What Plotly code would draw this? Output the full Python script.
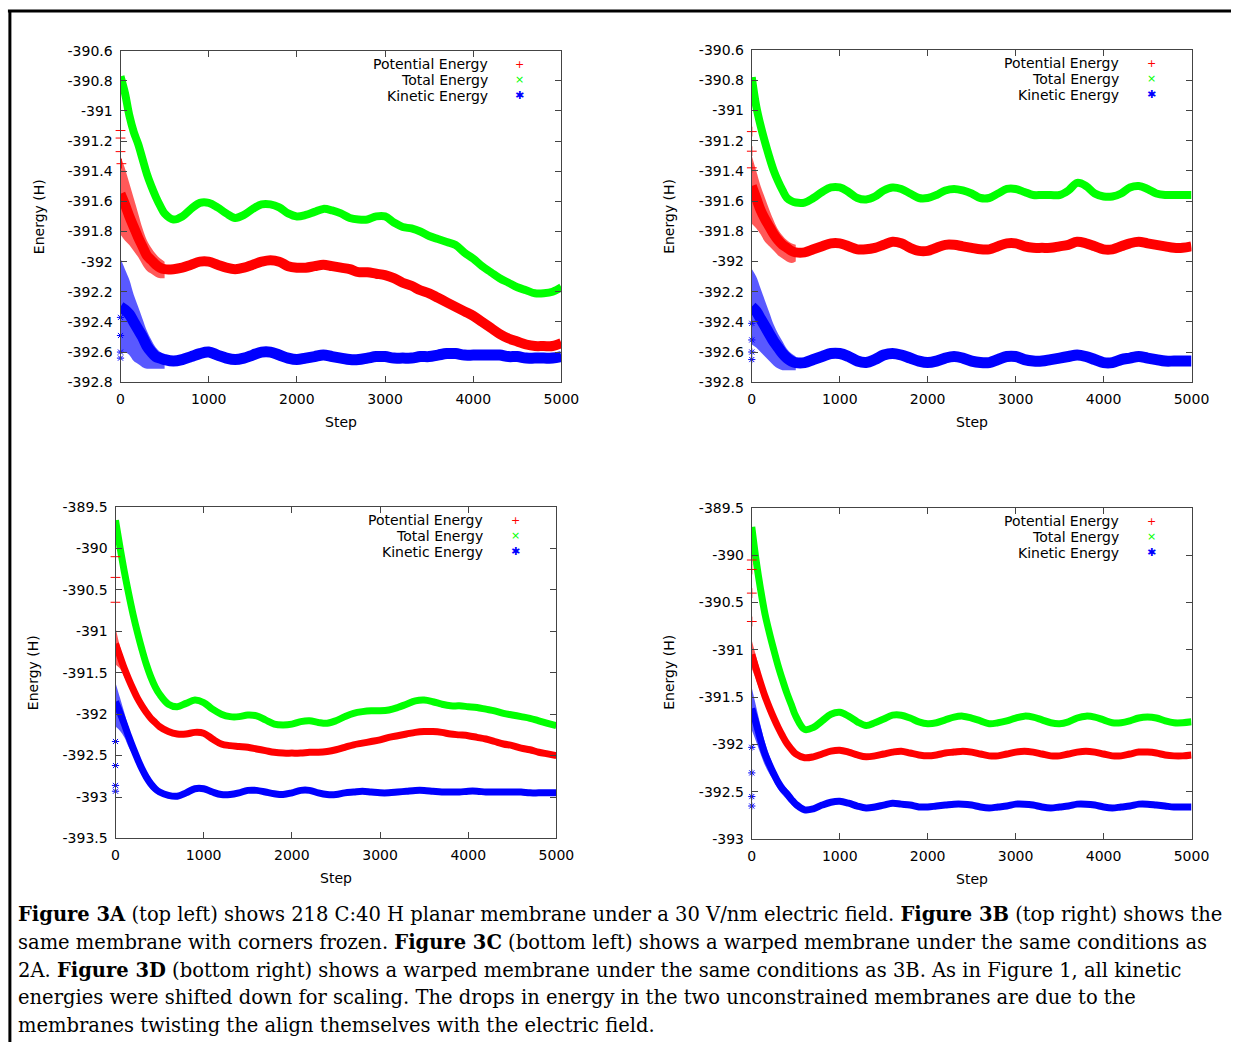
import plotly.graph_objects as go

# ---------------- data ----------------
steps = [0, 50, 100, 150, 200, 250, 300, 350, 400, 450, 500,
         600, 700, 800, 900, 1000, 1100, 1200, 1300, 1400, 1500,
         1600, 1700, 1800, 1900, 2000, 2100, 2200, 2300, 2400, 2500,
         2600, 2700, 2800, 2900, 3000, 3100, 3200, 3300, 3400, 3500,
         3600, 3700, 3800, 3900, 4000, 4100, 4200, 4300, 4400, 4500,
         4600, 4700, 4800, 4900, 5000]
steps_early = [0, 50, 100, 150, 200, 250, 300, 350, 400, 450, 500]

# Figure 3A
total_a = [-390.77, -390.88, -391.03, -391.14, -391.22, -391.32, -391.42, -391.50, -391.57, -391.63, -391.68,
           -391.72, -391.70, -391.65, -391.61, -391.61, -391.64, -391.68, -391.71, -391.69, -391.65,
           -391.62, -391.62, -391.64, -391.68, -391.70, -391.69, -391.67, -391.65, -391.66, -391.68,
           -391.71, -391.72, -391.72, -391.70, -391.70, -391.74, -391.77, -391.78, -391.80, -391.83,
           -391.85, -391.87, -391.89, -391.94, -391.98, -392.03, -392.07, -392.11, -392.14, -392.17,
           -392.19, -392.21, -392.21, -392.20, -392.17]
potential_a = [-391.55, -391.62, -391.70, -391.77, -391.84, -391.90, -391.96, -391.99, -392.02, -392.04, -392.05,
               -392.05, -392.04, -392.02, -392.00, -392.00, -392.02, -392.04, -392.05, -392.04, -392.02,
               -392.00, -391.99, -392.00, -392.03, -392.04, -392.04, -392.03, -392.02, -392.03, -392.04,
               -392.05, -392.07, -392.07, -392.08, -392.09, -392.11, -392.14, -392.16, -392.19, -392.21,
               -392.24, -392.27, -392.30, -392.33, -392.36, -392.40, -392.44, -392.48, -392.51, -392.53,
               -392.55, -392.56, -392.56, -392.56, -392.54]
kinetic_a = [-392.30, -392.32, -392.35, -392.40, -392.45, -392.50, -392.56, -392.60, -392.63, -392.64, -392.65,
             -392.66, -392.65, -392.63, -392.61, -392.60, -392.62, -392.64, -392.65, -392.64, -392.62,
             -392.60, -392.60, -392.62, -392.64, -392.65, -392.64, -392.63, -392.62, -392.63, -392.64,
             -392.65, -392.65, -392.64, -392.63, -392.63, -392.64, -392.64, -392.64, -392.63, -392.63,
             -392.62, -392.61, -392.61, -392.62, -392.62, -392.62, -392.62, -392.62, -392.63, -392.63,
             -392.64, -392.64, -392.64, -392.64, -392.63]
potential_a_hi = [-391.30, -391.38, -391.48, -391.58, -391.68, -391.78, -391.86, -391.91, -391.95, -391.98, -392.00]
potential_a_lo = [-391.82, -391.86, -391.89, -391.93, -391.97, -392.02, -392.06, -392.08, -392.10, -392.11, -392.11]
kinetic_a_hi = [-391.98, -392.05, -392.12, -392.22, -392.30, -392.38, -392.46, -392.52, -392.57, -392.60, -392.62]
kinetic_a_lo = [-392.60, -392.60, -392.62, -392.66, -392.68, -392.70, -392.71, -392.71, -392.71, -392.71, -392.71]
pot_out_a_x = [0, 0, 0, 10]
pot_out_a_y = [-391.13, -391.18, -391.27, -391.35]
kin_out_a_x = [0, 0, 0, 0]
kin_out_a_y = [-392.37, -392.49, -392.60, -392.64]

# Figure 3B
total_b = [-390.78, -390.97, -391.10, -391.21, -391.31, -391.40, -391.47, -391.53, -391.58, -391.60, -391.61,
           -391.61, -391.58, -391.54, -391.51, -391.51, -391.54, -391.58, -391.59, -391.57, -391.53,
           -391.51, -391.52, -391.55, -391.58, -391.58, -391.56, -391.53, -391.52, -391.53, -391.55,
           -391.58, -391.58, -391.55, -391.52, -391.52, -391.54, -391.56, -391.56, -391.56, -391.56,
           -391.53, -391.48, -391.50, -391.55, -391.57, -391.57, -391.55, -391.51, -391.50, -391.52,
           -391.55, -391.56, -391.56, -391.56, -391.56]
potential_b = [-391.50, -391.58, -391.66, -391.72, -391.77, -391.82, -391.86, -391.89, -391.91, -391.93, -391.94,
               -391.94, -391.92, -391.90, -391.88, -391.88, -391.90, -391.92, -391.92, -391.91, -391.89,
               -391.87, -391.88, -391.91, -391.93, -391.93, -391.91, -391.89, -391.89, -391.90, -391.91,
               -391.92, -391.92, -391.90, -391.88, -391.88, -391.90, -391.91, -391.91, -391.91, -391.90,
               -391.89, -391.87, -391.88, -391.90, -391.92, -391.92, -391.90, -391.88, -391.87, -391.88,
               -391.89, -391.90, -391.91, -391.91, -391.90]
kinetic_b = [-392.30, -392.33, -392.38, -392.43, -392.48, -392.53, -392.57, -392.61, -392.64, -392.66, -392.67,
             -392.67, -392.65, -392.63, -392.61, -392.61, -392.63, -392.66, -392.67, -392.65, -392.62,
             -392.61, -392.62, -392.64, -392.66, -392.67, -392.66, -392.64, -392.63, -392.64, -392.66,
             -392.67, -392.67, -392.65, -392.63, -392.63, -392.65, -392.66, -392.66, -392.65, -392.64,
             -392.63, -392.62, -392.63, -392.65, -392.67, -392.67, -392.65, -392.64, -392.63, -392.64,
             -392.65, -392.66, -392.66, -392.66, -392.66]
potential_b_hi = [-391.30, -391.40, -391.50, -391.58, -391.66, -391.73, -391.79, -391.83, -391.86, -391.88, -391.89]
potential_b_lo = [-391.75, -391.78, -391.82, -391.87, -391.90, -391.93, -391.96, -391.98, -392.00, -392.01, -392.00]
kinetic_b_hi = [-392.05, -392.10, -392.18, -392.26, -392.34, -392.42, -392.48, -392.53, -392.58, -392.61, -392.63]
kinetic_b_lo = [-392.55, -392.57, -392.60, -392.63, -392.66, -392.69, -392.71, -392.72, -392.72, -392.72, -392.72]
pot_out_b_x = [0, 0, 0]
pot_out_b_y = [-391.14, -391.27, -391.38]
kin_out_b_x = [0, 0, 0, 0]
kin_out_b_y = [-392.41, -392.52, -392.60, -392.65]

# Figure 3C
total_c = [-389.66, -389.98, -390.28, -390.55, -390.80, -391.02, -391.22, -391.40, -391.55, -391.67, -391.76,
           -391.88, -391.91, -391.87, -391.83, -391.86, -391.94, -392.00, -392.03, -392.03, -392.01,
           -392.02, -392.07, -392.12, -392.13, -392.12, -392.09, -392.08, -392.10, -392.11, -392.08,
           -392.03, -391.99, -391.97, -391.96, -391.96, -391.95, -391.92, -391.88, -391.84, -391.83,
           -391.85, -391.88, -391.90, -391.90, -391.91, -391.92, -391.94, -391.96, -391.99, -392.01,
           -392.03, -392.05, -392.08, -392.11, -392.14]
potential_c = [-391.15, -391.30, -391.45, -391.58, -391.70, -391.81, -391.90, -391.98, -392.05, -392.10, -392.15,
               -392.21, -392.24, -392.24, -392.22, -392.23, -392.30, -392.36, -392.38, -392.39, -392.40,
               -392.42, -392.44, -392.46, -392.47, -392.47, -392.47, -392.46, -392.46, -392.45, -392.43,
               -392.40, -392.37, -392.35, -392.33, -392.31, -392.28, -392.26, -392.24, -392.22, -392.21,
               -392.21, -392.22, -392.24, -392.25, -392.26, -392.28, -392.30, -392.33, -392.36, -392.38,
               -392.41, -392.43, -392.46, -392.48, -392.50]
kinetic_c = [-391.85, -391.98, -392.12, -392.27, -392.41, -392.54, -392.66, -392.76, -392.84, -392.90, -392.94,
             -392.98, -392.99, -392.95, -392.90, -392.90, -392.94, -392.97, -392.97, -392.95, -392.92,
             -392.92, -392.94, -392.96, -392.97, -392.95, -392.92, -392.92, -392.95, -392.97, -392.97,
             -392.95, -392.94, -392.93, -392.94, -392.95, -392.95, -392.94, -392.93, -392.92, -392.92,
             -392.93, -392.94, -392.94, -392.94, -392.93, -392.93, -392.94, -392.94, -392.94, -392.94,
             -392.94, -392.95, -392.95, -392.95, -392.95]
potential_c_hi = [-390.95, -391.18, -391.36, -391.52, -391.65, -391.77, -391.86, -391.94, -392.01, -392.06, -392.11]
potential_c_lo = [-391.40, -391.45, -391.55, -391.65, -391.75, -391.85, -391.94, -392.02, -392.09, -392.14, -392.19]
kinetic_c_hi = [-391.62, -391.80, -391.98, -392.17, -392.33, -392.47, -392.59, -392.70, -392.78, -392.85, -392.90]
kinetic_c_lo = [-392.15, -392.20, -392.28, -392.40, -392.50, -392.62, -392.73, -392.82, -392.90, -392.95, -392.98]
pot_out_c_x = [0, 0, 0]
pot_out_c_y = [-390.10, -390.35, -390.65]
kin_out_c_x = [0, 0, 0, 0]
kin_out_c_y = [-392.33, -392.62, -392.86, -392.93]

# Figure 3D
total_d = [-389.70, -390.06, -390.36, -390.62, -390.82, -391.00, -391.17, -391.32, -391.46, -391.58, -391.70,
           -391.84, -391.82, -391.75, -391.68, -391.66, -391.70, -391.76, -391.80, -391.77, -391.73,
           -391.69, -391.69, -391.72, -391.76, -391.78, -391.77, -391.74, -391.71, -391.70, -391.72,
           -391.75, -391.78, -391.77, -391.75, -391.72, -391.70, -391.71, -391.74, -391.77, -391.78,
           -391.76, -391.72, -391.70, -391.71, -391.74, -391.77, -391.77, -391.75, -391.72, -391.71,
           -391.72, -391.75, -391.77, -391.77, -391.76]
potential_d = [-391.05, -391.20, -391.35, -391.49, -391.61, -391.72, -391.82, -391.91, -391.99, -392.05, -392.10,
               -392.14, -392.13, -392.10, -392.07, -392.06, -392.08, -392.11, -392.13, -392.12, -392.10,
               -392.08, -392.07, -392.09, -392.11, -392.12, -392.11, -392.09, -392.08, -392.07, -392.08,
               -392.10, -392.12, -392.12, -392.10, -392.08, -392.07, -392.08, -392.10, -392.12, -392.12,
               -392.10, -392.08, -392.07, -392.08, -392.10, -392.12, -392.12, -392.10, -392.08, -392.08,
               -392.09, -392.11, -392.12, -392.12, -392.11]
kinetic_d = [-391.62, -391.78, -391.95, -392.10, -392.21, -392.31, -392.40, -392.47, -392.52, -392.58, -392.63,
             -392.69, -392.68, -392.64, -392.61, -392.60, -392.62, -392.65, -392.67, -392.66, -392.64,
             -392.62, -392.63, -392.64, -392.66, -392.66, -392.65, -392.64, -392.63, -392.63, -392.64,
             -392.66, -392.67, -392.66, -392.65, -392.63, -392.63, -392.64, -392.66, -392.67, -392.66,
             -392.65, -392.63, -392.63, -392.64, -392.66, -392.67, -392.66, -392.65, -392.63, -392.63,
             -392.64, -392.65, -392.66, -392.66, -392.66]
potential_d_hi = [-390.90, -391.07, -391.25, -391.42, -391.55, -391.67, -391.77, -391.87, -391.95, -392.01, -392.06]
potential_d_lo = [-391.20, -391.32, -391.45, -391.57, -391.67, -391.77, -391.87, -391.95, -392.03, -392.09, -392.14]
kinetic_d_hi = [-391.40, -391.60, -391.80, -391.98, -392.12, -392.24, -392.34, -392.42, -392.47, -392.53, -392.59]
kinetic_d_lo = [-391.85, -391.97, -392.10, -392.22, -392.31, -392.39, -392.47, -392.53, -392.58, -392.63, -392.68]
pot_out_d_x = [0, 0, 0, 0]
pot_out_d_y = [-390.05, -390.15, -390.40, -390.70]
kin_out_d_x = [0, 0, 0, 0]
kin_out_d_y = [-392.03, -392.30, -392.55, -392.65]

# tick labels
x_ticks = [0, 1000, 2000, 3000, 4000, 5000]
x_tick_text = ["0", "1000", "2000", "3000", "4000", "5000"]
y_ticks_ab = [-390.6, -390.8, -391.0, -391.2, -391.4, -391.6, -391.8, -392.0, -392.2, -392.4, -392.6, -392.8]
y_tick_text_ab = ["-390.6", "-390.8", "-391", "-391.2", "-391.4", "-391.6", "-391.8", "-392", "-392.2",
                  "-392.4", "-392.6", "-392.8"]
y_ticks_c = [-389.5, -390.0, -390.5, -391.0, -391.5, -392.0, -392.5, -393.0, -393.5]
y_tick_text_c = ["-389.5", "-390", "-390.5", "-391", "-391.5", "-392", "-392.5", "-393", "-393.5"]
y_ticks_d = [-389.5, -390.0, -390.5, -391.0, -391.5, -392.0, -392.5, -393.0]
y_tick_text_d = ["-389.5", "-390", "-390.5", "-391", "-391.5", "-392", "-392.5", "-393"]

series_names = ["Potential Energy", "Total Energy", "Kinetic Energy"]
caption_lines = [
    "<b>Figure 3A</b> (top left) shows 218 C:40 H planar membrane under a 30 V/nm electric field. "
    "<b>Figure 3B</b> (top right) shows the",
    "same membrane with corners frozen. <b>Figure 3C</b> (bottom left) shows a warped membrane under the same conditions as",
    "2A. <b>Figure 3D</b> (bottom right) shows a warped membrane under the same conditions as 3B. As in Figure 1, all kinetic",
    "energies were shifted down for scaling. The drops in energy in the two unconstrained membranes are due to the",
    "membranes twisting the align themselves with the electric field.",
]

for arr in [total_a, potential_a, kinetic_a, total_b, potential_b, kinetic_b,
            total_c, potential_c, kinetic_c, total_d, potential_d, kinetic_d]:
    assert len(arr) == len(steps), len(arr)

# ---------------- figure ----------------
W, H = 1249, 1050
RED, GREEN, BLUE = "#ff0000", "#00ff00", "#0000ff"
SANS = "DejaVu Sans"


def px(x):
    return x / W


def py(y):
    return 1 - y / H


panels = [
    dict(xd=(118.6, 567.4), yd=(43.3, 380.0), yr=(-392.8, -390.6), ytv=y_ticks_ab, ytt=y_tick_text_ab,
         tot=total_a, pot=potential_a, kin=kinetic_a,
         ph=potential_a_hi, pl=potential_a_lo, kh=kinetic_a_hi, kl=kinetic_a_lo,
         pox=pot_out_a_x, poy=pot_out_a_y, kox=kin_out_a_x, koy=kin_out_a_y,
         widths=(10, 8, 11), ytitle=(35, 212), xtitle=(343, 420), leg=(495, 57, 525)),
    dict(xd=(761.2, 1208.8), yd=(42.7, 380.0), yr=(-392.8, -390.6), ytv=y_ticks_ab, ytt=y_tick_text_ab,
         tot=total_b, pot=potential_b, kin=kinetic_b,
         ph=potential_b_hi, pl=potential_b_lo, kh=kinetic_b_hi, kl=kinetic_b_lo,
         pox=pot_out_b_x, poy=pot_out_b_y, kox=kin_out_b_x, koy=kin_out_b_y,
         widths=(10, 8, 11), ytitle=(677, 212), xtitle=(985, 420), leg=(1137, 56, 1168)),
    dict(xd=(113.5, 562.3), yd=(506.7, 843.3), yr=(-393.5, -389.5), ytv=y_ticks_c, ytt=y_tick_text_c,
         tot=total_c, pot=potential_c, kin=kinetic_c,
         ph=potential_c_hi, pl=potential_c_lo, kh=kinetic_c_hi, kl=kinetic_c_lo,
         pox=pot_out_c_x, poy=pot_out_c_y, kox=kin_out_c_x, koy=kin_out_c_y,
         widths=(7, 7, 7), ytitle=(29, 675), xtitle=(338, 883), leg=(490, 520, 521)),
    dict(xd=(761.2, 1208.8), yd=(507.7, 844.0), yr=(-393.0, -389.5), ytv=y_ticks_d, ytt=y_tick_text_d,
         tot=total_d, pot=potential_d, kin=kinetic_d,
         ph=potential_d_hi, pl=potential_d_lo, kh=kinetic_d_hi, kl=kinetic_d_lo,
         pox=pot_out_d_x, poy=pot_out_d_y, kox=kin_out_d_x, koy=kin_out_d_y,
         widths=(7, 7, 7), ytitle=(677, 675), xtitle=(985, 884), leg=(1137, 521, 1168)),
]

fig = go.Figure()
annotations = []
layout_axes = {}

for i, p in enumerate(panels, start=1):
    xa = "x" if i == 1 else f"x{i}"
    ya = "y" if i == 1 else f"y{i}"
    wp, wt, wk = p["widths"]

    # early noisy envelopes
    for hi, lo, col in [(p["ph"], p["pl"], "rgba(255,0,0,0.65)"), (p["kh"], p["kl"], "rgba(0,0,255,0.65)")]:
        fig.add_trace(go.Scatter(x=steps_early, y=lo, mode="lines", line=dict(width=0, shape="spline"),
                                 xaxis=xa, yaxis=ya, showlegend=False, hoverinfo="skip"))
        fig.add_trace(go.Scatter(x=steps_early, y=hi, mode="lines", line=dict(width=0, shape="spline"),
                                 fill="tonexty", fillcolor=col,
                                 xaxis=xa, yaxis=ya, showlegend=False, hoverinfo="skip"))

    fig.add_trace(go.Scatter(x=steps, y=p["pot"], mode="lines", name=series_names[0],
                             line=dict(color=RED, width=wp, shape="spline"),
                             xaxis=xa, yaxis=ya, showlegend=False))
    fig.add_trace(go.Scatter(x=steps, y=p["tot"], mode="lines", name=series_names[1],
                             line=dict(color=GREEN, width=wt, shape="spline"),
                             xaxis=xa, yaxis=ya, showlegend=False))
    fig.add_trace(go.Scatter(x=steps, y=p["kin"], mode="lines", name=series_names[2],
                             line=dict(color=BLUE, width=wk, shape="spline"),
                             xaxis=xa, yaxis=ya, showlegend=False))
    # stray early samples
    fig.add_trace(go.Scatter(x=p["pox"], y=p["poy"], mode="markers", cliponaxis=False,
                             marker=dict(symbol="cross-thin", size=7, line=dict(color=RED, width=1)),
                             xaxis=xa, yaxis=ya, showlegend=False))
    fig.add_trace(go.Scatter(x=p["kox"], y=p["koy"], mode="markers", cliponaxis=False,
                             marker=dict(symbol="asterisk", size=6, line=dict(color=BLUE, width=1)),
                             xaxis=xa, yaxis=ya, showlegend=False))

    axis_common = dict(showline=True, linecolor="#444", linewidth=1, mirror="ticks",
                       ticks="inside", ticklen=6, tickcolor="#444", showgrid=False, zeroline=False,
                       tickfont=dict(family=SANS, size=14, color="#000"), ticklabelstandoff=4)
    layout_axes["xaxis" if i == 1 else f"xaxis{i}"] = dict(
        domain=[px(p["xd"][0]), px(p["xd"][1])], range=[0, 5000], anchor=ya,
        tickvals=x_ticks, ticktext=x_tick_text, **axis_common)
    layout_axes["yaxis" if i == 1 else f"yaxis{i}"] = dict(
        domain=[py(p["yd"][1]), py(p["yd"][0])], range=list(p["yr"]), anchor=xa,
        tickvals=p["ytv"], ticktext=p["ytt"], **axis_common)

    # axis titles
    annotations.append(dict(text="Energy (H)", x=px(p["ytitle"][0]), y=py(p["ytitle"][1]),
                            xref="paper", yref="paper", showarrow=False, textangle=-90,
                            xanchor="center", yanchor="middle",
                            font=dict(family=SANS, size=14, color="#000")))
    annotations.append(dict(text="Step", x=px(p["xtitle"][0]), y=py(p["xtitle"][1]),
                            xref="paper", yref="paper", showarrow=False,
                            xanchor="center", yanchor="middle",
                            font=dict(family=SANS, size=14, color="#000")))
    # legend (gnuplot style: text then symbol)
    tx, ty0, mx = p["leg"]
    for k, (name, sym, col) in enumerate(zip(series_names, ["+", "×", "✱"], [RED, GREEN, BLUE])):
        yy = ty0 + 16 * k
        annotations.append(dict(text=name, x=px(tx), y=py(yy), xref="paper", yref="paper",
                                showarrow=False, xanchor="right", yanchor="middle",
                                font=dict(family=SANS, size=14, color="#000")))
        annotations.append(dict(text=sym, x=px(mx), y=py(yy), xref="paper", yref="paper",
                                showarrow=False, xanchor="center", yanchor="middle",
                                font=dict(family=SANS, size=11, color=col)))

# caption
for k, line in enumerate(caption_lines):
    annotations.append(dict(text=line, x=px(12), y=py(921 + 28 * k), xref="paper", yref="paper",
                            showarrow=False, xanchor="left", yanchor="middle", align="left",
                            font=dict(family="DejaVu Serif", size=19.5, color="#000")))

shapes = [
    dict(type="line", xref="paper", yref="paper", x0=px(4), x1=1, y0=py(3), y1=py(3),
         line=dict(color="#000", width=3)),
    dict(type="line", xref="paper", yref="paper", x0=px(6), x1=px(6), y0=py(2), y1=0,
         line=dict(color="#000", width=3)),
]

fig.update_layout(width=W, height=H, margin=dict(l=0, r=0, t=0, b=0),
                  paper_bgcolor="#fff", plot_bgcolor="#fff",
                  annotations=annotations, shapes=shapes, **layout_axes)

fig.write_html("out.html")
